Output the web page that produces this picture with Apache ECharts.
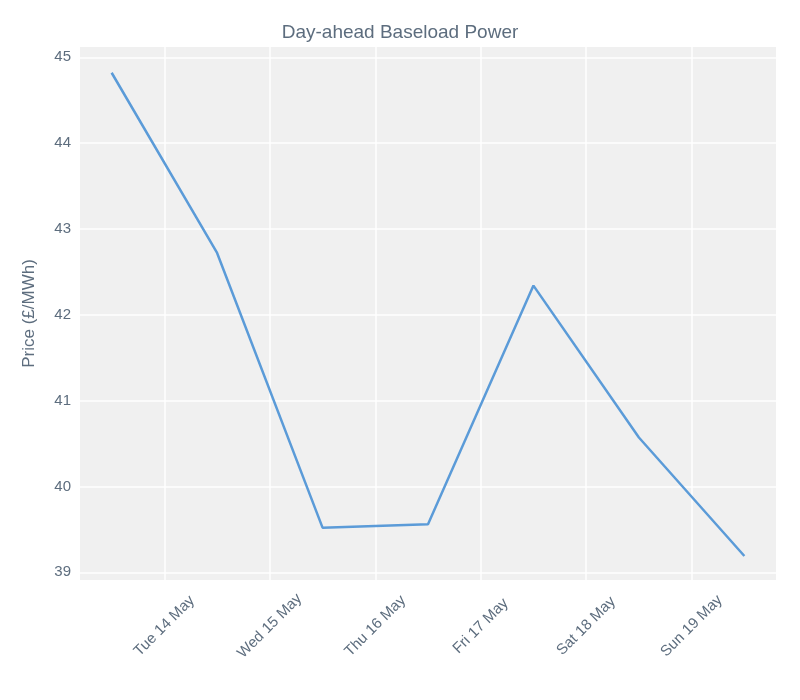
<!DOCTYPE html>
<html><head><meta charset="utf-8">
<script src="https://cdn.jsdelivr.net/npm/echarts@6/dist/echarts.min.js"></script>
<style>html,body{margin:0;background:#fff}#c{width:800px;height:700px}</style>
</head><body><div id="c"></div>
<script>
// x positions in days from Mon 13 May 00:00
const pointDays = [0.5, 1.5, 2.5, 3.5, 4.5, 5.5, 6.5];
const prices = [44.82, 42.72, 39.52, 39.56, 42.34, 40.57, 39.19];
const tickDays = [1, 2, 3, 4, 5, 6];
const tickLabels = ['Tue 14 May', 'Wed 15 May', 'Thu 16 May', 'Fri 17 May', 'Sat 18 May', 'Sun 19 May'];
const yTicks = [39, 40, 41, 42, 43, 44, 45];

const txt = '#5d6d7e';
const chart = echarts.init(document.getElementById('c'));
chart.setOption({
  backgroundColor: '#fff',
  title: {text: 'Day-ahead Baseload Power', left: 'center', top: 18,
    textStyle: {color: txt, fontSize: 19, fontWeight: 'normal', fontFamily: 'Liberation Sans'}},
  grid: {left: 80, right: 24, top: 47, bottom: 120, show: true, backgroundColor: '#f0f0f0', borderWidth: 0},
  xAxis: {type: 'value', min: 0.2, max: 6.8,
    axisLine: {show: false},
    axisTick: {show: false, customValues: tickDays},
    splitLine: {show: true, lineStyle: {color: '#fff', width: 1.5}},
    axisLabel: {customValues: tickDays, rotate: 45, color: txt, fontSize: 15, fontFamily: 'Liberation Sans', margin: 46,
      align: 'center', verticalAlign: 'middle',
      formatter: v => tickLabels[tickDays.indexOf(Math.round(v))] || ''}},
  yAxis: {type: 'value', min: 38.91, max: 45.12,
    name: 'Price (£/MWh)', nameLocation: 'middle', nameGap: 42,
    nameTextStyle: {color: txt, fontSize: 17, fontFamily: 'Liberation Sans'},
    axisLine: {show: false}, axisTick: {show: false, customValues: yTicks},
    splitLine: {show: true, lineStyle: {color: '#fff', width: 1.5}},
    axisLabel: {customValues: yTicks, color: txt, fontSize: 15, fontFamily: 'Liberation Sans', margin: 9}},
  series: [{type: 'line', data: pointDays.map((d, i) => [d, prices[i]]), showSymbol: false,
    lineStyle: {color: '#5b9bd8', width: 2.5}, animation: false}]
});
</script></body></html>
